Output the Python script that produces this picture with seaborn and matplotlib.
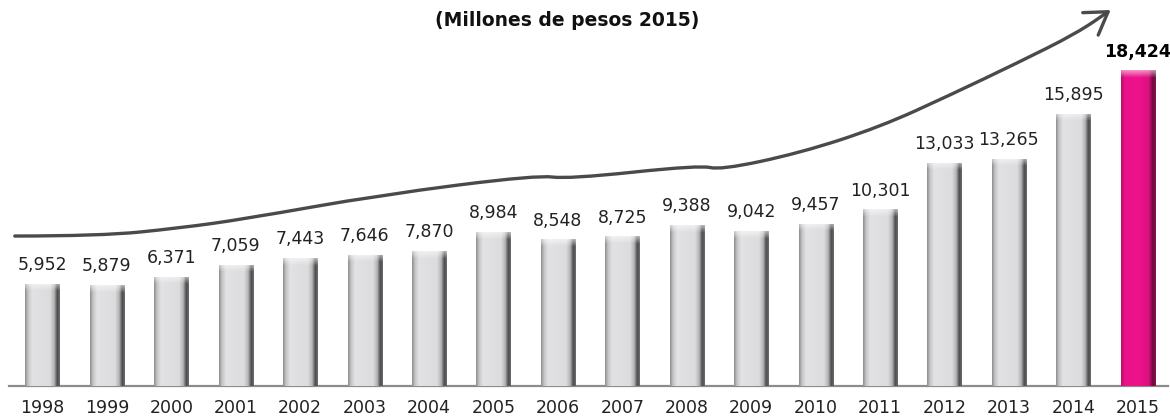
import numpy as np
import pandas as pd
import seaborn as sns
import matplotlib.pyplot as plt
from matplotlib.path import Path
from matplotlib.patches import FancyArrowPatch
from matplotlib.colors import to_rgb

years = ["1998", "1999", "2000", "2001", "2002", "2003", "2004", "2005", "2006",
         "2007", "2008", "2009", "2010", "2011", "2012", "2013", "2014", "2015"]
values = [5952, 5879, 6371, 7059, 7443, 7646, 7870, 8984, 8548,
          8725, 9388, 9042, 9457, 10301, 13033, 13265, 15895, 18424]
title = "(Millones de pesos 2015)"

# trend arrow drawn over the bars (x in bar index, y in data units)
trend_x = [-0.43, 0.9, 2.13, 3.14, 5.24, 7.68, 8.15, 10.21, 10.52, 11.76, 13.0, 14.09, 15.13, 16.06, 16.58]
trend_y = [8770, 8770, 9240, 9770, 11170, 12340, 12100, 12920, 12630, 13630, 15150, 17020, 18890, 20640, 21990]

df = pd.DataFrame({"year": years, "value": values})
colors = ["#dcdcdf"] * (len(years) - 1) + ["#ea1184"]

sns.set_style("white")
plt.rcParams["font.family"] = ["DejaVu Sans"]

fig = plt.figure(figsize=(11.7, 4.19), dpi=100)
ax = fig.add_axes([9 / 1170, 33 / 419, 1159 / 1170, 386 / 419])
sns.barplot(data=df, x="year", y="value", hue="year", palette=colors, legend=False,
            width=0.53, ax=ax, saturation=1)

gray_stops = [(0, "#8f8f8f"), (0.08, "#c4c4c6"), (0.2, "#e2e2e5"), (0.72, "#dcdcdf"),
              (0.84, "#b4b4b6"), (0.93, "#4a4a4a"), (1.0, "#6a6a6a")]
pink_stops = [(0, "#b80d68"), (0.1, "#e8118a"), (0.5, "#ef138a"), (0.8, "#da1080"),
              (0.92, "#6a0c3a"), (1.0, "#8a1050")]


def ramp(stops, n=64):
    pos = [s[0] for s in stops]
    cols = np.array([to_rgb(s[1]) for s in stops])
    t = np.linspace(0, 1, n)
    return np.stack([np.interp(t, pos, cols[:, k]) for k in range(3)], axis=-1)


for i, bar in enumerate(ax.patches):
    x0, y0 = bar.get_x(), bar.get_y()
    w, h = bar.get_width(), bar.get_height()
    stops = pink_stops if i == len(years) - 1 else gray_stops
    img = ramp(stops)[None, :, :]
    ax.imshow(img, extent=(x0, x0 + w, y0, y0 + h), aspect="auto", zorder=3,
              interpolation="bilinear")
    # light bevel at the top
    top = np.linspace(0.55, 0, 12)[:, None, None] * np.ones((1, 64, 1))
    bev = np.concatenate([np.ones((12, 64, 3)), top], axis=-1)
    ax.imshow(bev, extent=(x0, x0 + w, y0 + h - 420, y0 + h), aspect="auto", zorder=4,
              interpolation="bilinear")
    weight = "bold" if i == len(years) - 1 else "normal"
    color = "#000000" if i == len(years) - 1 else "#222222"
    ax.text(x0 + w / 2, y0 + h + 600, f"{values[i]:,}", ha="center", va="bottom",
            fontsize=12.5, color=color, fontweight=weight, zorder=5)

# smooth trend arrow
verts = [(trend_x[0], trend_y[0])]
codes = [Path.MOVETO]
for k in range(1, len(trend_x) - 1):
    mx = (trend_x[k] + trend_x[k + 1]) / 2
    my = (trend_y[k] + trend_y[k + 1]) / 2
    verts += [(trend_x[k], trend_y[k]), (mx, my)]
    codes += [Path.CURVE3, Path.CURVE3]
verts.append((trend_x[-1], trend_y[-1]))
codes.append(Path.LINETO)
arrow = FancyArrowPatch(path=Path(verts, codes), arrowstyle="->,head_length=0.55,head_width=0.35",
                        mutation_scale=28, color="#4a4a4a", lw=2.4, zorder=6)
ax.add_patch(arrow)

ax.set_xlim(-0.52, 17.47)
ax.set_ylim(0, 22573)
ax.set_xlabel("")
ax.set_ylabel("")
ax.set_yticks([])
for side in ["top", "right", "left"]:
    ax.spines[side].set_visible(False)
ax.spines["bottom"].set_color("#8c8c8c")
ax.spines["bottom"].set_linewidth(1.6)
ax.tick_params(axis="x", length=0, pad=9, labelsize=12.5, labelcolor="#222222")
ax.patch.set_alpha(0)

fig.text(567 / 1170, 1 - 20 / 419, title, ha="center", va="center", fontsize=13.5,
         fontweight="bold", color="#111111")

fig.savefig("out.png", dpi=100)
